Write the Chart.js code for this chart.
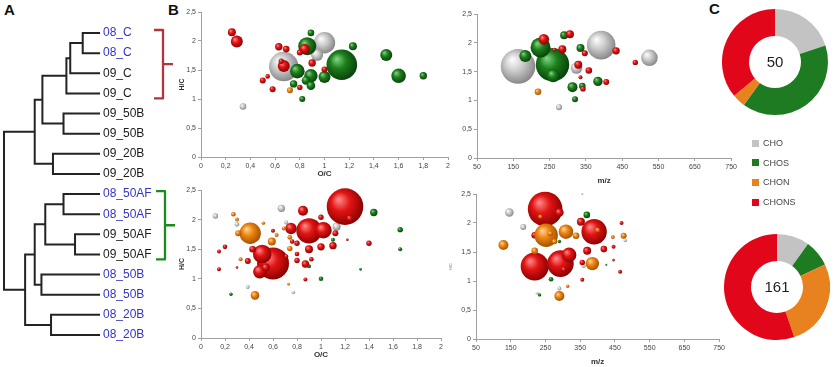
<!DOCTYPE html>
<html>
<head>
<meta charset="utf-8">
<script src="https://cdn.jsdelivr.net/npm/chart.js@4.4.1/dist/chart.umd.min.js"></script>
<style>
  body { margin: 0; background: #fff; }
  #wrap { position: relative; width: 837px; height: 367px; overflow: hidden; font-family: 'Liberation Sans', Arial, sans-serif; }
  .box { position: absolute; }
  .tag { position: absolute; font-weight: bold; font-size: 15px; line-height: 15px; color: #111; }
  .leg { position: absolute; left: 752px; font-size: 9px; line-height: 10px; color: #444; white-space: nowrap; }
  .leg i { display: inline-block; width: 7px; height: 7px; margin-right: 4px; vertical-align: -0.5px; }
</style>
</head>
<body>
<div id="wrap">
  <div class="tag" style="left:4px;top:2px">A</div>
  <div class="tag" style="left:168px;top:2px">B</div>
  <div class="tag" style="left:709px;top:1px">C</div>
</div>
<script>
// dendrogram leaves (top to bottom) and merges [left, right, height]; ids >= 16 are earlier merges
const leafLabels = ['08_C', '08_C', '09_C', '09_C', '09_50B', '09_50B', '09_20B', '09_20B',
  '08_50AF', '08_50AF', '09_50AF', '09_50AF', '08_50B', '08_50B', '08_20B', '08_20B'];
const merges = [
  [0, 1, 0.18], [16, 2, 0.31], [17, 3, 0.35], [4, 5, 0.38], [18, 19, 0.60],
  [6, 7, 0.49], [20, 21, 0.68], [8, 9, 0.38], [10, 11, 0.26], [23, 24, 0.57],
  [12, 13, 0.61], [25, 26, 0.68], [14, 15, 0.51], [27, 28, 0.78], [22, 29, 1.0]
];
const brackets = [[0, 3], [8, 11]];

// bubble data [x, H/C, radius px]
const tlCHO = [[0.67, 1.56, 14.7], [1.0, 1.97, 10.7], [0.94, 1.76, 6], [0.34, 0.87, 3.3]];
const tlCHOS = [[1.14, 1.59, 15.3], [0.86, 1.91, 9], [0.78, 1.48, 7.3], [1.6, 1.40, 7.3], [0.89, 1.40, 6.7],
  [1.5, 1.76, 6], [1.0, 1.38, 6], [0.85, 1.32, 4.3], [0.89, 1.23, 4.3], [1.23, 1.91, 4], [0.75, 1.26, 3.7],
  [1.8, 1.40, 3.7], [0.89, 2.14, 3.3], [0.82, 1.0, 3]];
const tlCHON = [[0.72, 1.15, 3]];
const tlCHONS = [[0.29, 1.99, 6], [0.67, 1.57, 6], [0.84, 1.86, 5], [0.25, 2.15, 4], [0.63, 1.90, 3.7],
  [0.90, 1.62, 3.7], [0.69, 1.86, 3.3], [0.80, 1.80, 3], [1.0, 1.51, 3], [0.50, 1.32, 3], [0.58, 1.17, 3],
  [0.80, 1.20, 2.7], [0.65, 1.65, 2.7], [0.54, 1.39, 2.3]];

const trCHO = [[163, 1.59, 17.3], [392, 1.96, 14.3], [525, 1.74, 8.3], [324, 1.56, 5.7], [276, 0.88, 3]];
const trCHOS = [[258, 1.62, 16.7], [225, 1.92, 10], [260, 1.43, 6.7], [183, 1.77, 6], [313, 1.23, 5],
  [383, 1.33, 4.7], [290, 2.13, 4], [335, 1.91, 4], [340, 1.25, 3.3], [320, 1.02, 3]];
const trCHON = [[218, 1.15, 3.3]];
const trCHONS = [[234, 2.06, 5.3], [306, 2.15, 4], [285, 1.89, 4], [329, 1.62, 4], [433, 1.86, 3.7],
  [347, 1.82, 3], [358, 1.52, 3.3], [406, 1.32, 3], [486, 1.66, 2.7], [342, 1.20, 2.7], [335, 1.40, 2], [263, 1.88, 2]];

const blCHO = [[0.67, 2.19, 3.7], [1.13, 1.88, 4], [0.12, 2.06, 2.7], [0.30, 1.92, 2.3], [0.39, 0.86, 2],
  [0.77, 0.77, 1.7], [0.71, 1.95, 2]];
const blCHOS = [[1.44, 2.12, 3.7], [1.66, 1.83, 2.7], [1.66, 1.50, 2], [1.0, 1.0, 2.3], [0.25, 0.74, 1.7],
  [1.10, 1.66, 2], [1.33, 1.16, 1.3], [0.90, 1.21, 2]];
const blCHON = [[0.41, 1.77, 10.7], [0.45, 0.72, 4.3], [0.59, 1.63, 4], [0.31, 1.77, 3], [0.27, 2.09, 2.3],
  [0.30, 2.0, 2], [0.33, 1.33, 2], [0.74, 1.51, 2.7], [0.74, 1.70, 2.3], [0.63, 1.74, 2], [0.73, 0.91, 1.3],
  [0.69, 1.85, 2], [0.52, 1.94, 1.7]];
const blCHONS = [[1.20, 2.22, 18.3], [0.60, 1.26, 16], [0.90, 1.81, 12.7], [0.51, 1.42, 9.3], [1.02, 1.82, 8.3],
  [0.49, 1.12, 6.7], [0.75, 1.85, 5.7], [0.85, 2.15, 5], [0.90, 1.50, 4], [0.54, 1.19, 4], [1.0, 1.54, 3.7],
  [1.10, 1.56, 3.7], [0.87, 1.25, 3.7], [0.43, 1.50, 3.3], [1.24, 2.02, 3.3], [1.12, 1.77, 3], [0.39, 1.30, 3],
  [1.0, 2.04, 2.7], [0.80, 1.31, 2.7], [1.40, 1.60, 2.7], [0.80, 1.60, 2.7], [0.92, 1.33, 2.3], [0.80, 1.42, 2.3],
  [0.76, 1.63, 2.3], [0.20, 1.54, 2.3], [0.46, 1.81, 2.3], [0.87, 0.99, 2], [0.71, 1.38, 2], [0.15, 1.46, 2],
  [0.15, 1.16, 2], [0.60, 1.81, 2], [0.30, 1.19, 1.3], [1.22, 1.66, 1.3]];

const brCHO = [[146, 2.18, 4.3], [186, 1.93, 3], [290, 0.87, 2], [226, 0.79, 1.3], [480, 1.70, 1.7],
  [360, 1.26, 2], [356, 2.5, 1]];
const brCHOS = [[369, 2.14, 3.3], [276, 1.24, 3], [290, 1.38, 2.3], [266, 1.03, 2.3], [233, 0.76, 1.7],
  [425, 1.28, 1], [290, 1.68, 1.7]];
const brCHON = [[252, 1.79, 11.7], [309, 1.85, 7.3], [385, 1.30, 6.7], [129, 1.62, 5], [290, 0.74, 5],
  [219, 1.52, 3.3], [475, 1.78, 3], [338, 1.78, 3.3], [264, 1.82, 2.7], [276, 1.68, 2.7], [400, 1.88, 2.3],
  [444, 1.76, 2], [314, 0.91, 1.7], [235, 2.11, 2]];
const brCHONS = [[249, 2.24, 17.3], [219, 1.25, 14], [293, 1.30, 13.3], [390, 1.85, 12.7], [318, 1.45, 7.3],
  [352, 2.02, 4], [370, 1.52, 4], [290, 2.18, 4.3], [418, 1.55, 3.3], [219, 1.79, 3.3], [356, 1.32, 2.7],
  [303, 1.20, 2.7], [446, 1.59, 2], [469, 2.0, 2], [465, 1.16, 2], [356, 1.02, 2], [446, 1.36, 1.3]];

const ocTicks = [0, 0.2, 0.4, 0.6, 0.8, 1, 1.2, 1.4, 1.6, 1.8, 2];
const mzTicks = [50, 150, 250, 350, 450, 550, 650, 750];
const hcTicks = [0, 0.5, 1, 1.5, 2, 2.5];

const classes = ['CHO', 'CHOS', 'CHON', 'CHONS'];
const donutTop = [10, 20, 2, 18];
const donutBottom = [16, 13, 43, 89];

// colours: [highlight, body, shadow]
const shade = {
  CHO: ['#ffffff', '#cdcdcd', '#848484'],
  CHOS: ['#86d886', '#1d7f1d', '#093f09'],
  CHON: ['#ffd8a0', '#ee8512', '#a05000'],
  CHONS: ['#ff9090', '#e21414', '#880000']
};
const flat = { CHO: '#c3c3c3', CHOS: '#1f7b22', CHON: '#e8821e', CHONS: '#e2061b' };
const drawOrder = ['CHON', 'CHONS', 'CHOS', 'CHO']; // first = on top

Chart.defaults.font.family = "'Liberation Sans', Arial, sans-serif";

const wrap = document.getElementById('wrap');
function box(l, t, w, h) {
  const d = document.createElement('div');
  d.className = 'box';
  d.style.cssText = `left:${l}px;top:${t}px;width:${w}px;height:${h}px`;
  const c = document.createElement('canvas');
  d.appendChild(c);
  wrap.appendChild(d);
  return c;
}

// dendrogram
const leafColor = leafLabels.map(l => l.startsWith('08') ? '#3434c6' : '#1a1a1a');
function dendroPoints() {
  const pos = leafLabels.map((_, i) => ({ y: i, h: 0 }));
  const pts = [];
  merges.forEach(([a, b, h]) => {
    const A = pos[a], B = pos[b];
    pts.push({ x: A.h, y: A.y }, { x: h, y: A.y }, { x: h, y: B.y }, { x: B.h, y: B.y }, { x: null, y: null });
    pos.push({ y: (A.y + B.y) / 2, h: h });
  });
  return pts;
}

const bracketPlugin = {
  id: 'brackets',
  afterDraw(chart) {
    const ys = chart.scales.y, c = chart.ctx;
    const cols = ['#b3343d', '#1d8a1d'];
    brackets.forEach(([a, b], i) => {
      const x = ys.left + 63 + i * 2;
      const y0 = ys.getPixelForValue(a) - 3, y1 = ys.getPixelForValue(b) + 5, ym = (y0 + y1) / 2;
      c.save();
      c.strokeStyle = cols[i];
      c.lineWidth = 2.3;
      c.lineJoin = 'round';
      c.beginPath();
      c.moveTo(x - 9, y0); c.lineTo(x, y0); c.lineTo(x, y1); c.lineTo(x - 9, y1);
      c.moveTo(x, ym); c.lineTo(x + 10, ym);
      c.stroke();
      c.restore();
    });
  }
};

new Chart(box(0, 20, 180, 330), {
  type: 'line',
  data: { datasets: [{ data: dendroPoints(), borderColor: '#232323', borderWidth: 2, pointRadius: 0, tension: 0, spanGaps: false, clip: false }] },
  options: {
    animation: false, responsive: true, maintainAspectRatio: false, events: [],
    layout: { padding: { left: 4, top: 13, bottom: 15, right: 0 }, autoPadding: false },
    plugins: { legend: { display: false }, tooltip: { enabled: false } },
    scales: {
      x: { type: 'linear', display: false, min: 0, max: 1, reverse: true },
      y: {
        type: 'linear', position: 'right', min: 0, max: 15, reverse: true,
        afterBuildTicks: s => { s.ticks = leafLabels.map((_, i) => ({ value: i })); },
        afterFit: s => { s.width = 80; },
        grid: { display: false, drawTicks: false },
        border: { display: false },
        ticks: { callback: v => leafLabels[v], color: c => leafColor[c.index], font: { size: 12 }, padding: 3, autoSkip: false }
      }
    }
  },
  plugins: [bracketPlugin]
});

// bubbles
function sphere(k) {
  const [hi, mid, lo] = shade[k];
  return ctx => {
    if (ctx.type !== 'data' || !ctx.raw) return mid;
    const ch = ctx.chart;
    if (!ch.scales.x || !ch.scales.y) return mid;
    const px = ch.scales.x.getPixelForValue(ctx.raw.x);
    const py = ch.scales.y.getPixelForValue(ctx.raw.y);
    const r = Math.max(ctx.raw.r, 0.5);
    if (!isFinite(px) || !isFinite(py)) return mid;
    const g = ch.ctx.createRadialGradient(px - r * 0.35, py - r * 0.4, 0, px - r * 0.1, py - r * 0.1, r * 1.15);
    g.addColorStop(0, hi);
    g.addColorStop(0.45, mid);
    g.addColorStop(1, lo);
    return g;
  };
}
const fmt = v => String(v).replace('.', ',');

function bubbleChart(canvas, groups, p) {
  const axisCol = '#a0a0a0';
  return new Chart(canvas, {
    type: 'bubble',
    data: {
      datasets: drawOrder.map(k => ({
        label: k,
        data: groups[k].map(([x, y, r]) => ({ x, y, r })).sort((a, b) => b.r - a.r),
        backgroundColor: sphere(k),
        borderWidth: 0,
        clip: false
      }))
    },
    options: {
      animation: false, responsive: true, maintainAspectRatio: false, events: [],
      layout: { padding: p.pad, autoPadding: false },
      plugins: { legend: { display: false }, tooltip: { enabled: false } },
      scales: {
        x: {
          type: 'linear', min: p.xTicks[0], max: p.xTicks[p.xTicks.length - 1],
          afterBuildTicks: s => { s.ticks = p.xTicks.map(v => ({ value: v })); },
          afterFit: s => { s.height = p.xH; },
          ticks: { callback: fmt, font: { size: 7 }, color: '#444', padding: 2, maxRotation: 0, autoSkip: false },
          grid: { drawOnChartArea: false, tickLength: 3, color: axisCol },
          border: { color: axisCol },
          title: { display: true, text: p.xTitle, font: { size: 8, weight: 'bold' }, color: '#333', padding: { top: 0, bottom: p.tPad } }
        },
        y: {
          type: 'linear', min: 0, max: 2.5,
          afterBuildTicks: s => { s.ticks = hcTicks.map(v => ({ value: v })); },
          afterFit: s => { s.width = p.yW; },
          ticks: { callback: fmt, font: { size: 7 }, color: '#444', padding: 2, autoSkip: false },
          grid: { drawOnChartArea: false, tickLength: 3, color: axisCol },
          border: { color: axisCol },
          title: { display: !!p.yTitle, text: p.yTitle || '', font: { size: p.ySize || 7, weight: 'bold' }, color: p.yCol || '#333', padding: { top: 2, bottom: 0 } }
        }
      }
    }
  });
}

bubbleChart(box(176, 2, 280, 180), { CHO: tlCHO, CHOS: tlCHOS, CHON: tlCHON, CHONS: tlCHONS },
  { xTicks: ocTicks, xTitle: 'O/C', yTitle: 'H/C', pad: { top: 10, right: 8, left: 0, bottom: 0 }, yW: 25, xH: 25, tPad: 3 });
bubbleChart(box(450, 2, 289, 184), { CHO: trCHO, CHOS: trCHOS, CHON: trCHON, CHONS: trCHONS },
  { xTicks: mzTicks, xTitle: 'm/z', pad: { top: 12, right: 5, left: 0, bottom: 0 }, yW: 27, xH: 28, tPad: 0 });
bubbleChart(box(176, 180, 273, 182), { CHO: blCHO, CHOS: blCHOS, CHON: blCHON, CHONS: blCHONS },
  { xTicks: ocTicks, xTitle: 'O/C', yTitle: 'H/C', pad: { top: 10, right: 8, left: 0, bottom: 0 }, yW: 25, xH: 24, tPad: 2 });
bubbleChart(box(446, 182, 281, 185), { CHO: brCHO, CHOS: brCHOS, CHON: brCHON, CHONS: brCHONS },
  { xTicks: mzTicks, xTitle: 'm/z', yTitle: 'H/C', ySize: 4, yCol: '#999', pad: { top: 12, right: 5, left: 0, bottom: 0 }, yW: 30, xH: 28, tPad: 0 });

// doughnuts
const centerText = {
  id: 'centerText',
  afterDraw(chart) {
    const a = chart.chartArea, c = chart.ctx;
    const total = chart.data.datasets[0].data.reduce((s, v) => s + v, 0);
    c.save();
    c.font = "15px 'Liberation Sans', Arial, sans-serif";
    c.fillStyle = '#1e1e1e';
    c.textAlign = 'center';
    c.textBaseline = 'middle';
    c.fillText(String(total), (a.left + a.right) / 2, (a.top + a.bottom) / 2 + 1);
    c.restore();
  }
};
function donut(canvas, values) {
  return new Chart(canvas, {
    type: 'doughnut',
    data: { labels: classes, datasets: [{ data: values, backgroundColor: classes.map(k => flat[k]), borderWidth: 0 }] },
    options: {
      animation: false, responsive: true, maintainAspectRatio: false, events: [], cutout: '49%',
      plugins: { legend: { display: false }, tooltip: { enabled: false } }
    },
    plugins: [centerText]
  });
}
donut(box(722, 9, 106, 106), donutTop);
donut(box(724, 234, 106, 106), donutBottom);

// legend
classes.forEach((k, i) => {
  const d = document.createElement('div');
  d.className = 'leg';
  d.style.top = (138 + i * 19.7) + 'px';
  d.innerHTML = `<i style="background:${flat[k]}"></i>${k}`;
  wrap.appendChild(d);
});
</script>
</body>
</html>
